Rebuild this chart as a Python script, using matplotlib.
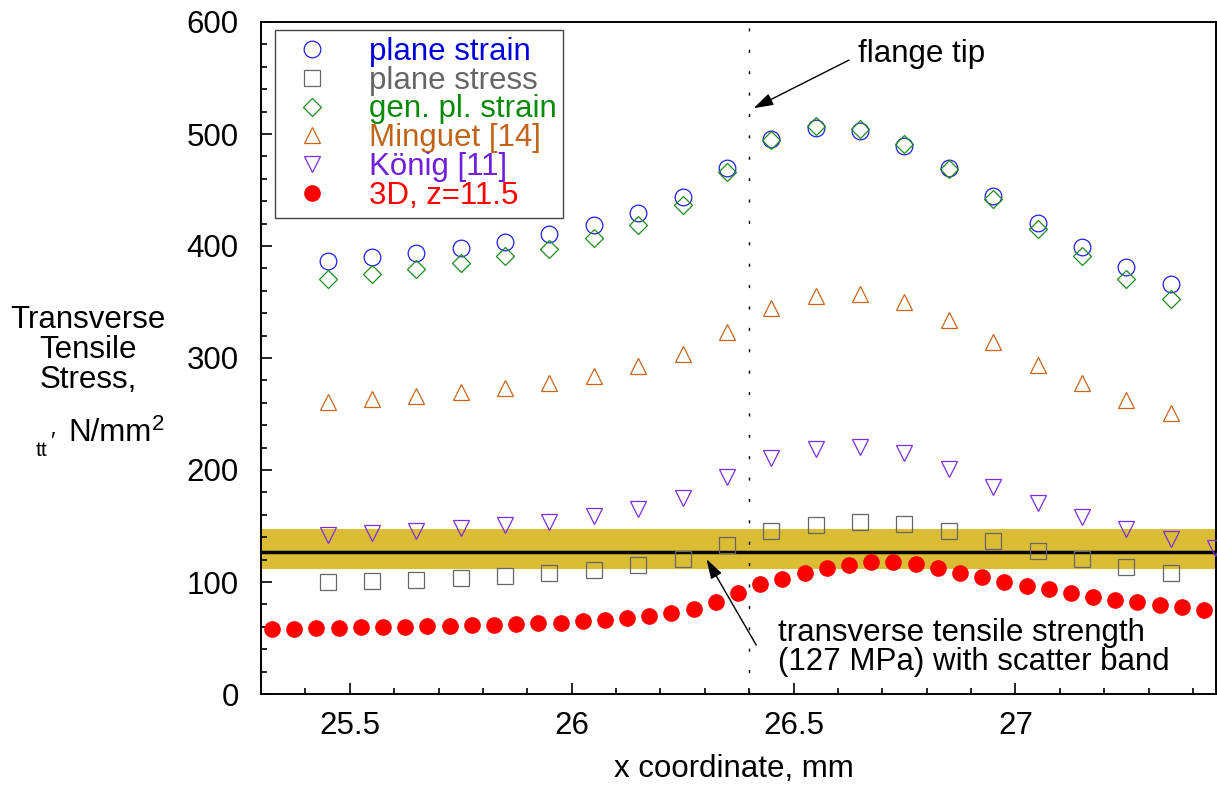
import matplotlib
matplotlib.use("Agg")
import matplotlib.pyplot as plt
from matplotlib.lines import Line2D
from matplotlib.ticker import MultipleLocator

plt.rcParams['font.family'] = ['Liberation Sans', 'DejaVu Sans']

# ---- data ----
x_open = [25.45, 25.55, 25.65, 25.75, 25.85, 25.95, 26.05, 26.15, 26.25, 26.35,
          26.45, 26.55, 26.65, 26.75, 26.85, 26.95, 27.05, 27.15, 27.25, 27.35]
x_koenig = x_open + [27.45]

plane_strain = [387.0, 390.5, 394.1, 398.6, 403.5, 410.5, 419.1, 429.3, 443.6, 469.2,
                495.1, 505.5, 503.1, 489.7, 469.8, 445.0, 420.9, 399.5, 381.6, 366.4]
plane_stress = [100.3, 100.9, 102.1, 103.8, 105.5, 108.0, 110.8, 115.2, 120.8, 132.9,
                145.6, 151.0, 153.7, 152.1, 145.6, 136.7, 128.1, 120.1, 113.2, 107.6]
gen_pl_strain = [370.6, 374.8, 379.2, 384.9, 390.7, 397.6, 407.5, 419.1, 436.7, 465.7,
                 495.0, 506.7, 504.4, 491.0, 468.9, 441.8, 415.0, 391.0, 370.6, 353.0]
minguet = [261.0, 263.5, 266.3, 269.8, 273.3, 278.1, 284.2, 292.6, 303.7, 323.0,
           344.4, 355.1, 357.5, 350.3, 333.7, 314.0, 294.0, 277.5, 262.9, 251.3]
koenig = [142.4, 143.5, 145.7, 148.1, 150.5, 154.0, 158.8, 165.5, 175.3, 193.9,
          211.1, 218.5, 220.2, 215.4, 200.5, 184.4, 170.1, 157.6, 147.5, 138.7, 130.2]

x_3d = [25.325, 25.375, 25.425, 25.475, 25.525, 25.575, 25.625, 25.675, 25.725, 25.775,
        25.825, 25.875, 25.925, 25.975, 26.025, 26.075, 26.125, 26.175, 26.225, 26.275,
        26.325, 26.375, 26.425, 26.475, 26.525, 26.575, 26.625, 26.675, 26.725, 26.775,
        26.825, 26.875, 26.925, 26.975, 27.025, 27.075, 27.125, 27.175, 27.225, 27.275,
        27.325, 27.375, 27.425]
y_3d = [58.4, 58.4, 59.0, 59.3, 59.6, 59.6, 60.2, 60.8, 60.8, 61.4,
        62.0, 62.6, 63.2, 63.8, 65.0, 66.2, 67.9, 69.7, 72.1, 76.3,
        81.7, 90.0, 98.3, 102.5, 107.9, 112.1, 115.6, 118.0, 118.0, 115.9,
        112.3, 107.9, 104.3, 100.1, 96.5, 93.6, 90.0, 87.0, 84.0, 81.7,
        79.3, 77.5, 75.1]

strength = 127
band_low, band_high = 112, 147
flange_tip_x = 26.4

labels = ["plane strain", "plane stress", "gen. pl. strain", "Minguet [14]", "König [11]", "3D, z=11.5"]
colors = ["#1f1fe6", "#666666", "#1e8c1e", "#c8661e", "#7a2ee0", "#ff0000"]
text_colors = ["#0000dd", "#666666", "#0a8a0a", "#c0641a", "#7020d8", "#ff0000"]

FS = 22.5
W, H = 1217, 791

fig = plt.figure(figsize=(W / 100, H / 100), dpi=100)
ax = fig.add_axes([261 / W, 1 - 694 / H, (1216 - 261) / W, (694 - 22) / H])

ax.axhspan(band_low, band_high, color="#dbbc35", lw=0, zorder=1)
ax.axhline(strength, color="black", lw=2.5, zorder=2)
ax.axvline(flange_tip_x, color="black", lw=1, ls=(0, (2.2, 13.2)), zorder=2)

mew = 0.9
ax.plot(x_open, plane_strain, ls="none", marker="o", ms=12, mfc="none", mec=colors[0], mew=mew, zorder=3)
ax.plot(x_open, plane_stress, ls="none", marker="s", ms=11.7, mfc="none", mec=colors[1], mew=mew, zorder=3)
ax.plot(x_open, gen_pl_strain, ls="none", marker="D", ms=8.7, mfc="none", mec=colors[2], mew=mew, zorder=3)
ax.plot(x_open, minguet, ls="none", marker="^", ms=12, mfc="none", mec=colors[3], mew=mew, zorder=3)
ax.plot(x_koenig, koenig, ls="none", marker="v", ms=12, mfc="none", mec=colors[4], mew=mew, zorder=3)
ax.plot(x_3d, y_3d, ls="none", marker="o", ms=12, mfc=colors[5], mec=colors[5], mew=0, zorder=4)

ax.set_xlim(25.3, 27.452)
ax.set_ylim(0, 600)
ax.xaxis.set_major_locator(MultipleLocator(0.5))
ax.xaxis.set_minor_locator(MultipleLocator(0.1))
ax.yaxis.set_major_locator(MultipleLocator(100))
ax.yaxis.set_minor_locator(MultipleLocator(20))
ax.set_xticks([25.5, 26, 26.5, 27])
ax.set_xticklabels(["25.5", "26", "26.5", "27"])
ax.tick_params(axis="both", which="both", direction="in", top=False, right=False, width=1.2, labelsize=FS)
ax.tick_params(axis="both", which="major", length=8)
ax.tick_params(axis="both", which="minor", length=4)
ax.tick_params(axis="x", which="major", pad=12)
ax.tick_params(axis="y", which="major", pad=16)
for s in ax.spines.values():
    s.set_linewidth(1.4)

# legend
handles = [
    Line2D([], [], ls="none", marker="o", ms=12, mfc="none", mec=colors[0], mew=mew),
    Line2D([], [], ls="none", marker="s", ms=11.7, mfc="none", mec=colors[1], mew=mew),
    Line2D([], [], ls="none", marker="D", ms=8.7, mfc="none", mec=colors[2], mew=mew),
    Line2D([], [], ls="none", marker="^", ms=12, mfc="none", mec=colors[3], mew=mew),
    Line2D([], [], ls="none", marker="v", ms=12, mfc="none", mec=colors[4], mew=mew),
    Line2D([], [], ls="none", marker="o", ms=12, mfc=colors[5], mec=colors[5], mew=0),
]
leg = ax.legend(handles, labels, loc="upper left", bbox_to_anchor=(0.0147, 0.988),
                borderaxespad=0, fontsize=FS, labelspacing=-0.04, handlelength=1.9,
                handletextpad=0.88, borderpad=0.22, fancybox=False, framealpha=1,
                edgecolor="#444444", numpoints=1)
leg.get_frame().set_linewidth(1.0)
for t, c in zip(leg.get_texts(), text_colors):
    t.set_color(c)

# annotations
ax.annotate("", xy=(26.41, 523), xytext=(26.625, 566),
            arrowprops=dict(arrowstyle="-|>,head_length=0.8,head_width=0.25", mutation_scale=15,
                            color="black", lw=1.0, shrinkA=0, shrinkB=0))
ax.text(26.646, 564.5, "flange tip", fontsize=FS, ha="left", va="baseline")

ax.annotate("", xy=(26.304, 120.4), xytext=(26.416, 43.6),
            arrowprops=dict(arrowstyle="-|>,head_length=0.8,head_width=0.25", mutation_scale=15,
                            color="black", lw=1.0, shrinkA=0, shrinkB=0), zorder=5)
ax.text(26.465, 47.0, "transverse tensile strength", fontsize=FS, ha="left", va="baseline")
ax.text(26.465, 21.5, "(127 MPa) with scatter band", fontsize=FS, ha="left", va="baseline")

# y label (horizontal, multi-line)
for txt, yb in [("Transverse", 328), ("Tensile", 358), ("Stress,", 388)]:
    fig.text(88 / W, 1 - yb / H, txt, fontsize=FS, ha="center", va="baseline")
fig.text(36 / W, 1 - 456 / H, "tt", fontsize=15, ha="left", va="baseline")
fig.text(50 / W, 1 - 449 / H, "\u2032", fontsize=17, ha="left", va="baseline")
fig.text(68 / W, 1 - 441 / H, "N/mm", fontsize=FS, ha="left", va="baseline")
fig.text(152 / W, 1 - 430 / H, "2", fontsize=16, ha="left", va="baseline")

fig.text(734 / W, 1 - 777 / H, "x coordinate, mm", fontsize=FS, ha="center", va="baseline")

fig.savefig("out.png", dpi=100)
